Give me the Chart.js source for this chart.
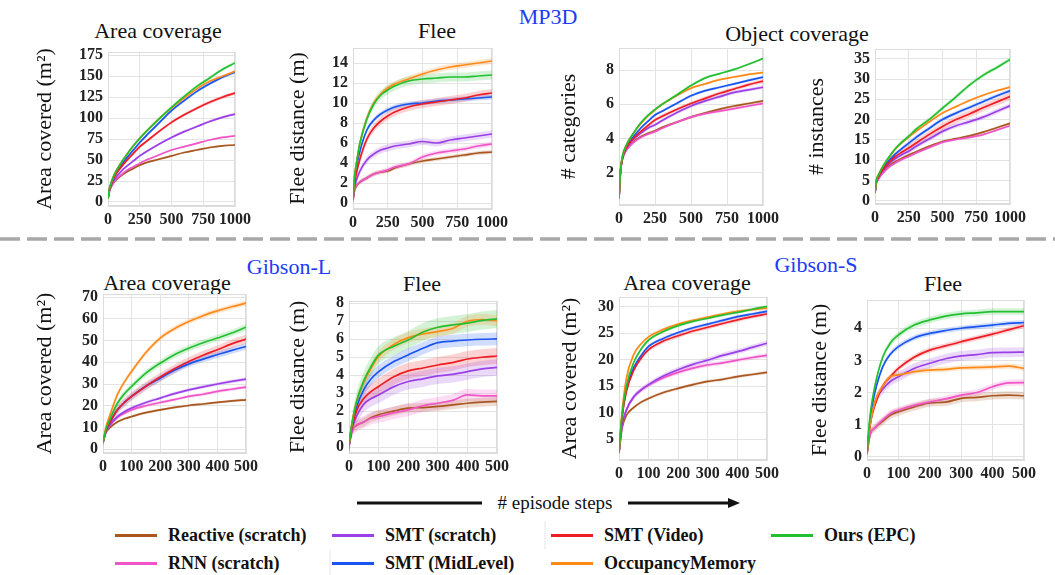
<!DOCTYPE html>
<html>
<head>
<meta charset="utf-8">
<script src="https://cdn.jsdelivr.net/npm/chart.js@4.4.1/dist/chart.umd.min.js"></script>
<style>
body { margin: 0; background: #fff; }
#fig { position: relative; width: 1055px; height: 575px; overflow: hidden; font-family: 'Liberation Serif', serif; color: #111; }
canvas { position: absolute; }
.t { position: absolute; transform: translate(-50%, -50%); white-space: nowrap; font-size: 22px; }
.ds { color: #1d3cf5; font-size: 22px; }
.lg { position: absolute; transform: translateY(-50%); white-space: nowrap; font-size: 18px; font-weight: bold; }
.sw { position: absolute; height: 3px; width: 42px; }
.xl { position: absolute; transform: translate(-50%, -50%); white-space: nowrap; font-size: 19px; }
</style>
</head>
<body>
<div id="fig">
  <div class="t ds" style="left:548px;top:17px">MP3D</div>
  <div class="t" style="left:158px;top:31px">Area coverage</div>
  <div class="t" style="left:437px;top:31px">Flee</div>
  <div class="t" style="left:797px;top:34px">Object coverage</div>

  <svg style="position:absolute;left:0;top:0" width="1055" height="575">
    <line x1="0" y1="239" x2="1055" y2="239" stroke="#a8a8a8" stroke-width="3.5" stroke-dasharray="20 7"/>
    <line x1="357" y1="503" x2="482" y2="503" stroke="#111" stroke-width="3"/>
    <line x1="628" y1="503" x2="730" y2="503" stroke="#111" stroke-width="3"/>
    <polygon points="728,498 740,503 728,508" fill="#111"/>
    <line x1="545" y1="521" x2="545" y2="549" stroke="#e6e6e6" stroke-width="1"/>
    <line x1="330" y1="550" x2="330" y2="575" stroke="#e6e6e6" stroke-width="1"/>
  </svg>

  <div class="t ds" style="left:289px;top:267px">Gibson-L</div>
  <div class="t ds" style="left:816px;top:265px">Gibson-S</div>
  <div class="t" style="left:167px;top:283px">Area coverage</div>
  <div class="t" style="left:422px;top:284px">Flee</div>
  <div class="t" style="left:687px;top:283px">Area coverage</div>
  <div class="t" style="left:943px;top:284px">Flee</div>

  <div class="xl" style="left:555px;top:503px">#&nbsp;episode steps</div>
  <div id="legend"></div>
</div>

<script>
const methods = ['Reactive (scratch)', 'RNN (scratch)', 'SMT (scratch)', 'SMT (MidLevel)', 'SMT (Video)', 'OccupancyMemory', 'Ours (EPC)'];
const colors = ['#a9561f', '#f055c8', '#9b3fe8', '#1a55f0', '#ee1c25', '#ff8a1a', '#22c030'];

const mp3dSteps = [0, 10, 25, 50, 100, 150, 200, 250, 300, 400, 500, 600, 700, 800, 900, 1000];
const gibsonSteps = [0, 10, 25, 50, 75, 100, 150, 200, 250, 300, 350, 400, 450, 500];
const mp3dXTicks = [0, 250, 500, 750, 1000];
const gibsonXTicks = [0, 100, 200, 300, 400, 500];

// rows follow the order of methods
const mp3dArea = [
  [4, 12, 18, 24, 31, 36, 40, 44, 47, 51, 55, 59, 62, 65, 67, 68],
  [4, 12, 18, 25, 32, 38, 42, 46, 50, 56, 62, 66, 70, 74, 77, 79],
  [4, 13, 20, 27, 36, 43, 49, 55, 60, 69, 77, 84, 90, 96, 101, 105],
  [4, 14, 22, 31, 43, 53, 62, 71, 79, 94, 109, 121, 132, 141, 149, 155],
  [4, 14, 21, 30, 41, 50, 58, 66, 72, 84, 95, 104, 112, 119, 125, 130],
  [4, 15, 23, 33, 46, 57, 67, 76, 84, 99, 112, 124, 135, 144, 150, 156],
  [4, 15, 23, 33, 46, 57, 67, 76, 84, 99, 113, 126, 138, 148, 158, 166]
];
const mp3dAreaSpread = [1.2, 1, 1.5, 2, 2, 1.5, 2];
const mp3dAreaTicks = [0, 25, 50, 75, 100, 125, 150, 175];

const mp3dFlee = [
  [0.3, 1.2, 1.7, 2.1, 2.5, 2.9, 3.1, 3.2, 3.5, 3.9, 4.2, 4.4, 4.6, 4.8, 5.0, 5.1],
  [0.3, 1.2, 1.7, 2.1, 2.5, 2.9, 3.1, 3.3, 3.6, 3.9, 4.6, 5.0, 5.2, 5.4, 5.7, 5.9],
  [0.3, 1.5, 2.3, 3.2, 4.3, 4.9, 5.3, 5.5, 5.7, 5.9, 6.15, 6.0, 6.3, 6.5, 6.7, 6.9],
  [0.3, 2.2, 3.6, 5.2, 7.3, 8.3, 8.9, 9.3, 9.6, 9.9, 10.0, 10.2, 10.3, 10.4, 10.5, 10.6],
  [0.3, 1.8, 3.0, 4.4, 6.4, 7.5, 8.2, 8.7, 9.1, 9.6, 9.9, 10.1, 10.3, 10.5, 10.8, 11.0],
  [0.3, 2.5, 4.0, 6.0, 8.5, 10.0, 10.9, 11.5, 11.9, 12.4, 12.9, 13.3, 13.6, 13.8, 14.0, 14.2],
  [0.3, 2.5, 4.0, 6.0, 8.4, 9.9, 10.8, 11.3, 11.7, 12.2, 12.4, 12.5, 12.6, 12.6, 12.7, 12.8]
];
const mp3dFleeSpread = [0.2, 0.25, 0.35, 0.25, 0.4, 0.3, 0.45];
const mp3dFleeTicks = [0, 2, 4, 6, 8, 10, 12, 14];

const mp3dCategories = [
  [0.5, 2.0, 2.8, 3.3, 3.8, 4.1, 4.3, 4.45, 4.65, 4.95, 5.25, 5.5, 5.72, 5.9, 6.05, 6.2],
  [0.5, 2.0, 2.8, 3.3, 3.75, 4.05, 4.25, 4.4, 4.6, 4.95, 5.25, 5.45, 5.6, 5.75, 5.9, 6.05],
  [0.5, 2.0, 2.9, 3.4, 3.95, 4.3, 4.6, 4.8, 5.05, 5.5, 5.9, 6.2, 6.45, 6.7, 6.85, 7.0],
  [0.5, 2.1, 2.9, 3.5, 4.1, 4.6, 5.0, 5.37, 5.6, 6.05, 6.5, 6.8, 7.0, 7.2, 7.4, 7.6],
  [0.5, 2.0, 2.9, 3.45, 4.0, 4.4, 4.75, 5.08, 5.3, 5.7, 6.05, 6.35, 6.65, 6.9, 7.15, 7.36],
  [0.5, 2.1, 3.0, 3.6, 4.3, 4.85, 5.3, 5.66, 6.0, 6.5, 6.95, 7.2, 7.45, 7.6, 7.75, 7.86],
  [0.5, 2.1, 3.0, 3.6, 4.3, 4.9, 5.35, 5.7, 6.0, 6.55, 7.1, 7.55, 7.8, 8.05, 8.35, 8.68]
];
const mp3dCategoriesSpread = [0.08, 0.08, 0.1, 0.08, 0.12, 0.06, 0.06];
const mp3dCategoriesTicks = [2, 4, 6, 8];

const mp3dInstances = [
  [2, 4.5, 5.5, 6.8, 8.5, 9.6, 10.5, 11.3, 12.0, 13.4, 14.6, 15.3, 16.0, 16.9, 18.0, 19.1],
  [2, 4.3, 5.3, 6.5, 8.2, 9.3, 10.2, 10.9, 11.7, 13.1, 14.4, 15.1, 15.6, 16.3, 17.4, 18.5],
  [2, 4.6, 5.8, 7.1, 9.0, 10.4, 11.4, 12.2, 13.3, 15.2, 17.1, 18.5, 19.5, 20.6, 22.0, 23.4],
  [2, 4.8, 6.0, 7.6, 9.8, 11.5, 12.9, 14.2, 15.5, 17.8, 20.0, 21.6, 23.0, 24.4, 25.8, 27.1],
  [2, 4.6, 5.8, 7.3, 9.3, 10.9, 12.0, 13.0, 14.1, 16.3, 18.3, 20.0, 21.4, 22.9, 24.3, 25.7],
  [2, 5.0, 6.3, 8.0, 10.5, 12.7, 14.3, 15.7, 17.0, 19.4, 21.6, 23.2, 24.7, 26.0, 27.1, 28.0],
  [2, 5.0, 6.3, 8.0, 10.6, 12.8, 14.5, 15.9, 17.5, 20.0, 22.8, 25.6, 28.5, 30.9, 32.8, 34.8]
];
const mp3dInstancesSpread = [0.3, 0.3, 0.6, 0.5, 0.9, 0.3, 0.5];
const mp3dInstancesTicks = [0, 5, 10, 15, 20, 25, 30, 35];

const gibsonLArea = [
  [3, 7.5, 10, 12.5, 14, 15, 16.8, 18.1, 19.2, 20.1, 20.8, 21.5, 22.2, 22.7],
  [3, 8, 11, 14.5, 16.5, 18.1, 20.0, 21.5, 22.8, 24.3, 25.3, 26.6, 27.6, 28.6],
  [3, 8, 11.3, 15, 17.2, 18.9, 21.5, 23.5, 25.6, 27.3, 28.7, 30.0, 31.2, 32.3],
  [3, 8.5, 12.5, 18, 21.5, 24.3, 29.0, 32.7, 36.3, 39.3, 41.5, 43.5, 45.5, 47.3],
  [3, 8.5, 12.5, 18, 21.5, 24.3, 29.0, 33.2, 37.0, 40.4, 43.3, 45.8, 48.5, 50.7],
  [3, 10, 16, 25, 31, 35.8, 44.5, 51.2, 55.5, 58.8, 61.5, 63.7, 65.6, 67.3],
  [3, 9, 14, 21, 25.5, 28.9, 35.0, 39.6, 43.5, 46.5, 49.0, 51.2, 53.5, 56.2]
];
const gibsonLAreaSpread = [0.6, 0.8, 0.8, 1.5, 2.0, 1.2, 1.5];
const gibsonLAreaTicks = [0, 10, 20, 30, 40, 50, 60, 70];

const gibsonLFlee = [
  [0.1, 0.9, 1.2, 1.4, 1.65, 1.8, 2.0, 2.17, 2.2, 2.26, 2.35, 2.44, 2.5, 2.54],
  [0.1, 0.9, 1.2, 1.4, 1.6, 1.7, 1.9, 2.07, 2.3, 2.44, 2.6, 2.9, 2.85, 2.85],
  [0.1, 1.0, 1.7, 2.4, 2.7, 2.9, 3.35, 3.65, 3.8, 3.96, 4.05, 4.2, 4.35, 4.44],
  [0.1, 1.2, 2.2, 3.2, 3.8, 4.2, 4.75, 5.13, 5.5, 5.81, 5.9, 5.96, 6.0, 6.02],
  [0.1, 1.1, 2.0, 2.7, 3.1, 3.37, 3.9, 4.24, 4.4, 4.57, 4.7, 4.9, 5.0, 5.07],
  [0.1, 1.3, 2.5, 3.6, 4.4, 5.04, 5.7, 6.09, 6.3, 6.43, 6.6, 7.0, 7.1, 7.04],
  [0.1, 1.3, 2.5, 3.7, 4.5, 5.13, 5.6, 5.96, 6.4, 6.67, 6.8, 6.9, 7.05, 7.13]
];
const gibsonLFleeSpread = [0.25, 0.35, 0.45, 0.35, 0.45, 0.3, 0.5];
const gibsonLFleeTicks = [0, 1, 2, 3, 4, 5, 6, 7, 8];

const gibsonSArea = [
  [2.5, 7, 9.5, 11, 12, 12.7, 13.8, 14.6, 15.3, 15.9, 16.3, 16.8, 17.2, 17.6],
  [2.5, 7.5, 10.5, 13, 14.3, 15.2, 16.6, 17.6, 18.4, 19.0, 19.4, 19.9, 20.4, 20.8],
  [2.5, 7.5, 10.5, 13, 14.3, 15.3, 16.9, 18.1, 19.1, 19.9, 20.8, 21.5, 22.3, 23.1],
  [2.5, 9, 14.5, 18.5, 20.8, 22.5, 24.0, 25.1, 26.0, 26.7, 27.4, 28.1, 28.6, 29.1],
  [2.5, 9, 14, 18, 20.3, 21.9, 23.5, 24.5, 25.4, 26.1, 26.8, 27.5, 28.1, 28.6],
  [2.5, 10, 16.5, 21, 23, 24.3, 25.7, 26.7, 27.4, 28.0, 28.6, 29.1, 29.4, 29.7],
  [2.5, 9.5, 15, 19.5, 22, 23.7, 25.3, 26.4, 27.2, 27.8, 28.4, 28.9, 29.5, 30.0]
];
const gibsonSAreaSpread = [0.3, 0.4, 0.5, 0.3, 0.4, 0.3, 0.3];
const gibsonSAreaTicks = [5, 10, 15, 20, 25, 30];

const gibsonSFlee = [
  [0.1, 0.7, 0.9, 1.1, 1.3, 1.4, 1.55, 1.68, 1.7, 1.82, 1.85, 1.9, 1.92, 1.9],
  [0.1, 0.7, 0.9, 1.15, 1.35, 1.45, 1.6, 1.71, 1.8, 1.92, 2.0, 2.18, 2.3, 2.31],
  [0.1, 1.0, 1.7, 2.1, 2.35, 2.49, 2.75, 2.91, 3.05, 3.14, 3.18, 3.24, 3.25, 3.26],
  [0.1, 1.2, 2.0, 2.8, 3.2, 3.43, 3.7, 3.84, 3.93, 4.0, 4.05, 4.1, 4.15, 4.18],
  [0.1, 1.0, 1.6, 2.2, 2.5, 2.75, 3.1, 3.32, 3.45, 3.58, 3.7, 3.82, 3.95, 4.08],
  [0.1, 1.0, 1.7, 2.2, 2.5, 2.55, 2.65, 2.7, 2.72, 2.77, 2.78, 2.8, 2.82, 2.75],
  [0.1, 1.3, 2.2, 3.1, 3.55, 3.79, 4.1, 4.26, 4.38, 4.45, 4.48, 4.52, 4.52, 4.52]
];
const gibsonSFleeSpread = [0.12, 0.1, 0.15, 0.08, 0.08, 0.08, 0.1];
const gibsonSFleeTicks = [0, 1, 2, 3, 4];

const fig = document.getElementById('fig');
const titleFont = { family: 'Liberation Serif', size: 22 };
const tickFont = { family: 'Liberation Serif', size: 16, weight: 'bold' };

// box = plot area [left, top, right, bottom] on the page, titleX = centre of the y title
const plots = [
  { steps: mp3dSteps, vals: mp3dArea, spread: mp3dAreaSpread, xTicks: mp3dXTicks, yTicks: mp3dAreaTicks,
    box: [108, 52, 235, 206], titleX: 45, yTitle: 'Area covered (m²)', yMin: -4.8, yMax: 179 },
  { steps: mp3dSteps, vals: mp3dFlee, spread: mp3dFleeSpread, xTicks: mp3dXTicks, yTicks: mp3dFleeTicks,
    box: [353, 48, 492, 209], titleX: 298, yTitle: 'Flee distance (m)', yMin: -0.6, yMax: 15.5 },
  { steps: mp3dSteps, vals: mp3dCategories, spread: mp3dCategoriesSpread, xTicks: mp3dXTicks, yTicks: mp3dCategoriesTicks,
    box: [619, 48, 763, 205], titleX: 569, yTitle: '# categories', yMin: 0.1, yMax: 9.3 },
  { steps: mp3dSteps, vals: mp3dInstances, spread: mp3dInstancesSpread, xTicks: mp3dXTicks, yTicks: mp3dInstancesTicks,
    box: [875, 49, 1010, 204], titleX: 817, yTitle: '# instances', yMin: -0.8, yMax: 37.4 },
  { steps: gibsonSteps, vals: gibsonLArea, spread: gibsonLAreaSpread, xTicks: gibsonXTicks, yTicks: gibsonLAreaTicks,
    box: [103, 294, 246, 453], titleX: 45, yTitle: 'Area covered (m²)', yMin: -1.8, yMax: 71.5 },
  { steps: gibsonSteps, vals: gibsonLFlee, spread: gibsonLFleeSpread, xTicks: gibsonXTicks, yTicks: gibsonLFleeTicks,
    box: [349, 301, 497, 453], titleX: 298, yTitle: 'Flee distance (m)', yMin: -0.33, yMax: 8.13 },
  { steps: gibsonSteps, vals: gibsonSArea, spread: gibsonSAreaSpread, xTicks: gibsonXTicks, yTicks: gibsonSAreaTicks,
    box: [619, 297, 767, 460], titleX: 570, yTitle: 'Area covered (m²)', yMin: 1.1, yMax: 31.8 },
  { steps: gibsonSteps, vals: gibsonSFlee, spread: gibsonSFleeSpread, xTicks: gibsonXTicks, yTicks: gibsonSFleeTicks,
    box: [867, 300, 1024, 460], titleX: 820, yTitle: 'Flee distance (m)', yMin: -0.1, yMax: 4.88 }
];

const frame = {
  id: 'frame',
  beforeDatasetsDraw(chart) {
    const a = chart.chartArea, ctx = chart.ctx;
    ctx.save();
    ctx.strokeStyle = '#dcdcdc';
    ctx.lineWidth = 1;
    ctx.strokeRect(a.left + 0.5, a.top + 0.5, a.width - 1, a.height - 1);
    ctx.restore();
  }
};

function alpha(hex, a) {
  const n = parseInt(hex.slice(1), 16);
  return 'rgba(' + (n >> 16) + ',' + ((n >> 8) & 255) + ',' + (n & 255) + ',' + a + ')';
}

function makePlot(p) {
  const [l, t, r, b] = p.box;
  const padTop = 12, padRight = 26, xH = 28;
  const cl = Math.round(p.titleX - titleFont.size * 1.2 / 2);
  const yW = l - cl;
  const canvas = document.createElement('canvas');
  canvas.width = yW + (r - l) + padRight;
  canvas.height = padTop + (b - t) + xH;
  canvas.style.left = cl + 'px';
  canvas.style.top = (t - padTop) + 'px';
  fig.appendChild(canvas);

  const datasets = [];
  p.vals.forEach((v, i) => {
    datasets.push({
      data: p.steps.map((s, k) => ({ x: s, y: v[k] - p.spread[i] })),
      borderWidth: 0, borderColor: 'rgba(0,0,0,0)', fill: false, order: 20,
      cubicInterpolationMode: 'monotone'
    });
    datasets.push({
      data: p.steps.map((s, k) => ({ x: s, y: v[k] + p.spread[i] })),
      borderWidth: 0, borderColor: 'rgba(0,0,0,0)', backgroundColor: alpha(colors[i], 0.2),
      fill: '-1', order: 20, cubicInterpolationMode: 'monotone'
    });
  });
  p.vals.forEach((v, i) => {
    datasets.push({
      label: methods[i],
      data: p.steps.map((s, k) => ({ x: s, y: v[k] })),
      borderColor: colors[i], borderWidth: 1.7, fill: false,
      order: 10 - i, cubicInterpolationMode: 'monotone'
    });
  });

  new Chart(canvas, {
    type: 'line',
    data: { datasets },
    options: {
      responsive: false,
      animation: false,
      devicePixelRatio: 1,
      layout: { padding: { left: 0, top: padTop, right: padRight, bottom: 0 } },
      elements: { point: { radius: 0 } },
      plugins: { legend: { display: false }, tooltip: { enabled: false } },
      scales: {
        x: {
          type: 'linear', min: 0, max: p.xTicks[p.xTicks.length - 1],
          afterBuildTicks: s => { s.ticks = p.xTicks.map(v => ({ value: v })); },
          afterFit: s => { s.height = xH; s.paddingLeft = 0; s.paddingRight = 0; },
          grid: { color: '#e3e3e3', drawTicks: false },
          border: { color: '#dcdcdc' },
          ticks: { font: tickFont, color: '#222', padding: 4, autoSkip: false, maxRotation: 0, minRotation: 0, callback: v => String(v) }
        },
        y: {
          min: p.yMin, max: p.yMax,
          afterBuildTicks: s => { s.ticks = p.yTicks.map(v => ({ value: v })); },
          afterFit: s => { s.width = yW; s.paddingTop = 0; s.paddingBottom = 0; },
          grid: { color: '#e3e3e3', drawTicks: false },
          border: { color: '#dcdcdc' },
          ticks: { font: tickFont, color: '#222', padding: 5, autoSkip: false, callback: v => String(v) },
          title: { display: true, text: p.yTitle, font: titleFont, color: '#111', padding: 0 }
        }
      }
    },
    plugins: [frame]
  });
}

plots.forEach(makePlot);

// shared legend, two rows
const legendSlots = [
  [115, 535], [115, 563], [332, 535], [332, 563], [551, 535], [551, 563], [771, 535]
];
const legend = document.getElementById('legend');
methods.forEach((m, i) => {
  const [x, y] = legendSlots[i];
  const sw = document.createElement('div');
  sw.className = 'sw';
  sw.style.left = x + 'px';
  sw.style.top = (y - 1) + 'px';
  sw.style.background = colors[i];
  legend.appendChild(sw);
  const tx = document.createElement('div');
  tx.className = 'lg';
  tx.style.left = (x + 53) + 'px';
  tx.style.top = y + 'px';
  tx.textContent = m;
  legend.appendChild(tx);
});
</script>
</body>
</html>
